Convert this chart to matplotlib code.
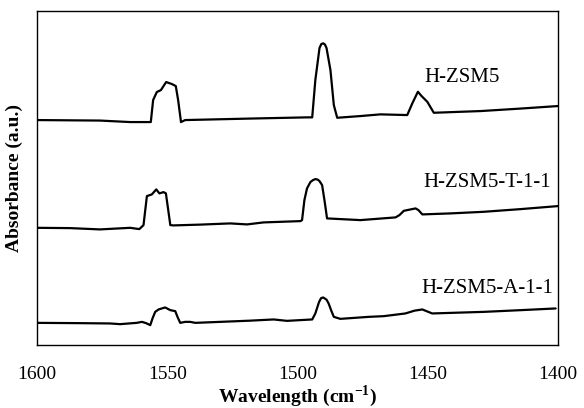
import numpy as np
import matplotlib
matplotlib.use("Agg")
import matplotlib.pyplot as plt

plt.rcParams['font.family'] = ['Liberation Serif', 'DejaVu Serif']
plt.rcParams['mathtext.fontset'] = 'custom'
plt.rcParams['mathtext.rm'] = 'Liberation Serif'
plt.rcParams['mathtext.bf'] = 'Liberation Serif:bold'

# spectra (wavenumber, absorbance with offsets)
hzsm5_w = [1600, 1575.8, 1564.2, 1556.3, 1555.4, 1554.0, 1552.4, 1550.4, 1548.2, 1546.7,
           1545.8, 1544.7, 1543.1, 1518.1, 1496.3, 1494.3, 1493.1, 1491.5, 1490.8, 1490.1,
           1489.4, 1488.8, 1487.3, 1486.0, 1484.7, 1475.8, 1468.1, 1457.8, 1455.8, 1453.7,
           1452.3, 1450.1, 1447.6, 1429.6, 1414.2, 1400]
hzsm5_a = [2.25, 2.245, 2.23, 2.23, 2.45, 2.53, 2.55, 2.63, 2.61, 2.59,
           2.45, 2.23, 2.25, 2.265, 2.277, 2.277, 2.65, 2.97, 3.01, 3.017,
           3.005, 2.97, 2.75, 2.40, 2.273, 2.29, 2.307, 2.30, 2.42, 2.533,
           2.49, 2.433, 2.323, 2.34, 2.365, 2.39]

t11_w = [1600, 1587.3, 1575.8, 1564.2, 1560.7, 1559.1, 1557.8, 1555.9, 1554.2, 1553.0,
         1551.4, 1550.5, 1549.6, 1548.8, 1547.6, 1537.3, 1525.8, 1519.3, 1513.0, 1498.8,
         1498.2, 1497.3, 1496.3, 1495.0, 1494.0, 1493.1, 1492.2, 1491.5, 1490.5, 1489.6,
         1488.6, 1475.8, 1462.3, 1460.8, 1459.1, 1454.6, 1453.5, 1452.0, 1441.2, 1428.5,
         1414.2, 1400]
t11_a = [1.173, 1.17, 1.157, 1.173, 1.16, 1.20, 1.49, 1.507, 1.557, 1.517,
         1.53, 1.517, 1.35, 1.20, 1.197, 1.205, 1.217, 1.207, 1.227, 1.24,
         1.25, 1.45, 1.567, 1.63, 1.65, 1.66, 1.655, 1.64, 1.60, 1.45,
         1.267, 1.25, 1.277, 1.30, 1.343, 1.367, 1.35, 1.307, 1.317, 1.333,
         1.36, 1.39]

a11_w = [1600, 1583.5, 1571.9, 1568.1, 1561.7, 1559.7, 1558.1, 1556.5, 1555.6, 1554.6,
         1553.3, 1550.8, 1548.8, 1546.9, 1546.0, 1545.0, 1543.1, 1541.2, 1539.2, 1529.6,
         1518.1, 1509.1, 1504.0, 1494.3, 1493.1, 1491.7, 1490.9, 1490.1, 1488.8, 1488.0,
         1486.9, 1486.0, 1483.5, 1472.6, 1466.8, 1458.5, 1455.0, 1452.0, 1450.4, 1448.2,
         1428.3, 1414.2, 1400.8]
a11_a = [0.223, 0.22, 0.217, 0.21, 0.223, 0.233, 0.22, 0.20, 0.27, 0.333,
         0.357, 0.377, 0.35, 0.34, 0.28, 0.223, 0.233, 0.233, 0.223, 0.233,
         0.245, 0.257, 0.243, 0.257, 0.317, 0.43, 0.47, 0.477, 0.455, 0.417,
         0.34, 0.283, 0.263, 0.283, 0.29, 0.317, 0.345, 0.357, 0.34, 0.317,
         0.333, 0.35, 0.367]

labels = ['H-ZSM5', 'H-ZSM5-T-1-1', 'H-ZSM5-A-1-1']
label_x = [1451.2, 1451.7, 1452.4]
label_y = [2.68, 1.63, 0.57]

fig = plt.figure(figsize=(5.84, 4.08), dpi=100)
ax = fig.add_axes([0.0634, 0.154, 0.8916, 0.819])

for w, a in [(hzsm5_w, hzsm5_a), (t11_w, t11_a), (a11_w, a11_a)]:
    ax.plot(w, a, color='black', lw=1.6, solid_joinstyle='round', solid_capstyle='round')

for lab, x, y in zip(labels, label_x, label_y):
    ax.text(x, y, lab, ha='left', va='center', fontsize=15)

ax.set_xlim(1600, 1400)
ax.set_ylim(0, 3.34)
ax.set_xticks([1600, 1550, 1500, 1450, 1400])
ax.set_yticks([])
ax.tick_params(axis='x', length=0, pad=15, labelsize=14)
for s in ax.spines.values():
    s.set_linewidth(1.0)

ax.set_xlabel('Wavelength (cm$^{\\mathbf{-1}}$)', fontsize=14, fontweight='bold', labelpad=0)
ax.set_ylabel('Absorbance (a.u.)', fontsize=14, fontweight='bold', labelpad=10)

fig.savefig('out.png', dpi=100)
plt.close()
